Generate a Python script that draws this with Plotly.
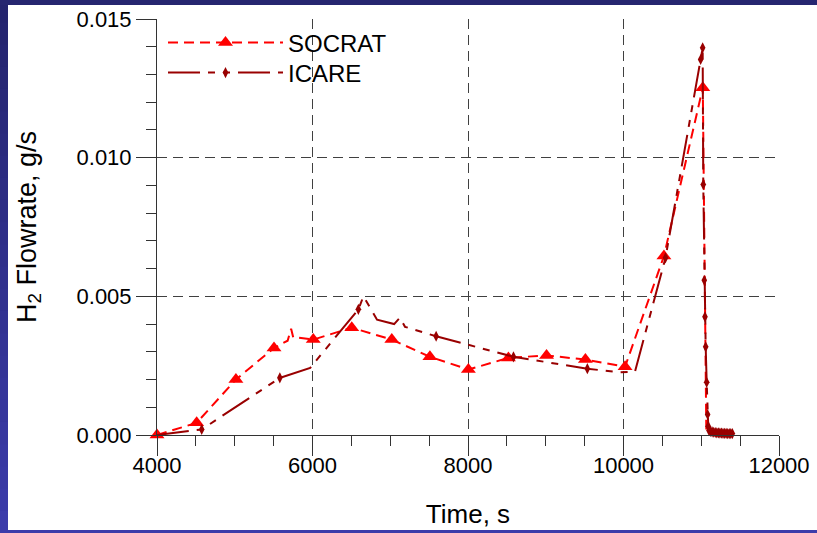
import plotly.graph_objects as go

# ---------------- data ----------------
socrat_t = [4000, 4510, 5015, 5505, 5680, 5725, 5752, 5800, 6010, 6505, 7020, 7510,
            8005, 8520, 9010, 9510, 10020, 10520, 11020, 11065]
socrat_v = [0.0, 0.00044, 0.0020, 0.00314, 0.0034, 0.00383, 0.00352, 0.00352, 0.00344,
            0.00387, 0.00344, 0.00282, 0.00236, 0.00278, 0.00287, 0.00272, 0.00246,
            0.00645, 0.01252, 0.0002]
socrat_marked = [1, 1, 1, 1, 0, 0, 0, 0, 1, 1, 1, 1, 1, 1, 1, 1, 1, 1, 1, 0]

icare_t = [4000, 4575, 5580, 5970, 6590, 6655, 6830, 7050, 7125, 7190, 7590, 8585,
           9535, 9955, 10148, 10540, 10992, 11018, 11026, 11039, 11048, 11057, 11070,
           11082, 11090, 11100, 11120, 11140, 11160, 11180, 11200, 11220, 11240, 11260,
           11280, 11300, 11320, 11340, 11360, 11380, 11400]
icare_v = [0.0, 0.0002, 0.00206, 0.00242, 0.00453, 0.0050, 0.00416, 0.0040, 0.00423,
           0.0039, 0.00356, 0.00282, 0.00239, 0.00226, 0.00229, 0.00639, 0.01354,
           0.01396, 0.00903, 0.00558, 0.00426, 0.00318, 0.0019, 0.00074, 0.00032,
           0.00016, 0.00013, 0.00011, 0.0001, 0.00009, 0.00008, 0.00008, 0.00007,
           0.00007, 0.00006, 0.00006, 0.00006, 0.00005, 0.00005, 0.00005, 0.00005]
icare_marked = [0, 1, 1, 0, 1, 0, 0, 0, 0, 0, 1, 1, 1, 0, 0, 1, 1, 1, 1, 1, 1, 1, 1,
                1, 1, 1, 1, 1, 1, 1, 1, 1, 1, 1, 1, 1, 1, 1, 1, 1, 1]

x_ticks = [4000, 6000, 8000, 10000, 12000]
x_ticklabels = ["4000", "6000", "8000", "10000", "12000"]
y_ticks = [0.0, 0.005, 0.010, 0.015]
y_ticklabels = ["0.000", "0.005", "0.010", "0.015"]

# ---------------- style ----------------
RED = "#FF0000"
DARK = "#990000"
FONT = "Arial, Liberation Sans, sans-serif"
SOC_DASH = "10px,6px"
ICA_DASH = "32px,8px,7px,8px,7px,8px"
W, H = 817, 533
L, R, T, B = 157, 38, 19, 98

fig = go.Figure()

def sel(vals, flags):
    return [v for v, f in zip(vals, flags) if f]

# SOCRAT
fig.add_trace(go.Scatter(x=socrat_t, y=socrat_v, mode="lines", showlegend=False,
                         line=dict(color=RED, width=2, dash=SOC_DASH), cliponaxis=False))
fig.add_trace(go.Scatter(x=sel(socrat_t, socrat_marked), y=sel(socrat_v, socrat_marked),
                         mode="markers", showlegend=False, cliponaxis=False,
                         marker=dict(symbol="triangle-up", size=13, color=RED)))
# ICARE
fig.add_trace(go.Scatter(x=icare_t, y=icare_v, mode="lines", showlegend=False,
                         line=dict(color=DARK, width=2, dash=ICA_DASH), cliponaxis=False))
fig.add_trace(go.Scatter(x=sel(icare_t, icare_marked), y=sel(icare_v, icare_marked),
                         mode="markers", showlegend=False, cliponaxis=False,
                         marker=dict(symbol="diamond-tall", size=8, color=DARK)))

# legend entries (one legend per row for exact placement)
fig.add_trace(go.Scatter(x=[None], y=[None], mode="lines+markers", name="SOCRAT",
                         legend="legend",
                         line=dict(color=RED, width=2, dash=SOC_DASH),
                         marker=dict(symbol="triangle-up", size=13, color=RED)))
fig.add_trace(go.Scatter(x=[None], y=[None], mode="lines+markers", name="ICARE",
                         legend="legend2",
                         line=dict(color=DARK, width=2, dash=ICA_DASH),
                         marker=dict(symbol="diamond-tall", size=8, color=DARK)))

# background frame (blue gradient strips)
def px2x(p):
    return (p - L) / (W - L - R)

def py2y(p):
    return (H - B - p) / (H - T - B)

shapes = []
n = 24
top_c = (36, 36, 110)
bot_c = (60, 60, 170)
for i in range(n):
    f = i / (n - 1)
    c = tuple(int(top_c[k] + (bot_c[k] - top_c[k]) * f) for k in range(3))
    col = "rgb(%d,%d,%d)" % c
    y0 = H * i / n
    y1 = H * (i + 1) / n + 1
    shapes.append(dict(type="rect", xref="paper", yref="paper", layer="below",
                       x0=px2x(0), x1=px2x(8), y0=py2y(y0), y1=py2y(y1),
                       fillcolor=col, line=dict(width=0)))
shapes.append(dict(type="rect", xref="paper", yref="paper", layer="below",
                   x0=px2x(0), x1=px2x(W), y0=py2y(0), y1=py2y(5),
                   fillcolor="rgb(38,38,112)", line=dict(width=0)))
shapes.append(dict(type="rect", xref="paper", yref="paper", layer="below",
                   x0=px2x(0), x1=px2x(W), y0=py2y(530), y1=py2y(H),
                   fillcolor="rgb(60,60,170)", line=dict(width=0)))

axis_common = dict(
    showline=True, linecolor="#333333", linewidth=1,
    ticks="outside", ticklen=20, tickwidth=1, tickcolor="#333333",
    showgrid=True, gridcolor="#404040", gridwidth=1, griddash="10px,6px",
    zeroline=False, automargin=False,
    tickfont=dict(family=FONT, size=22, color="black"),
)

leg_common = dict(xanchor="left", yanchor="middle", bgcolor="rgba(0,0,0,0)",
                  itemwidth=115, font=dict(family=FONT, size=24, color="black"),
                  borderwidth=0)

fig.update_layout(
    width=W, height=H,
    margin=dict(l=L, r=R, t=T, b=B),
    paper_bgcolor="white", plot_bgcolor="white",
    shapes=shapes,
    showlegend=True,
    legend=dict(x=px2x(163), y=py2y(43), **leg_common),
    legend2=dict(x=px2x(163), y=py2y(73), **leg_common),
    xaxis=dict(range=[4000, 12000], tickvals=x_ticks, ticktext=x_ticklabels,
               ticklabelstandoff=-9,
               minor=dict(dtick=500, tick0=4000, ticks="outside", ticklen=10,
                          tickcolor="#333333", showgrid=False),
               title=dict(text="Time, s", font=dict(family=FONT, size=26, color="black"),
                          standoff=27),
               **axis_common),
    yaxis=dict(range=[0, 0.015], tickvals=y_ticks, ticktext=y_ticklabels,
               minor=dict(dtick=0.001, tick0=0, ticks="outside", ticklen=10,
                          tickcolor="#333333", showgrid=False),
               title=dict(text="H<sub>2</sub> Flowrate, g/s",
                          font=dict(family=FONT, size=27, color="black"), standoff=32),
               **axis_common),
)

fig.write_html("out.html")
